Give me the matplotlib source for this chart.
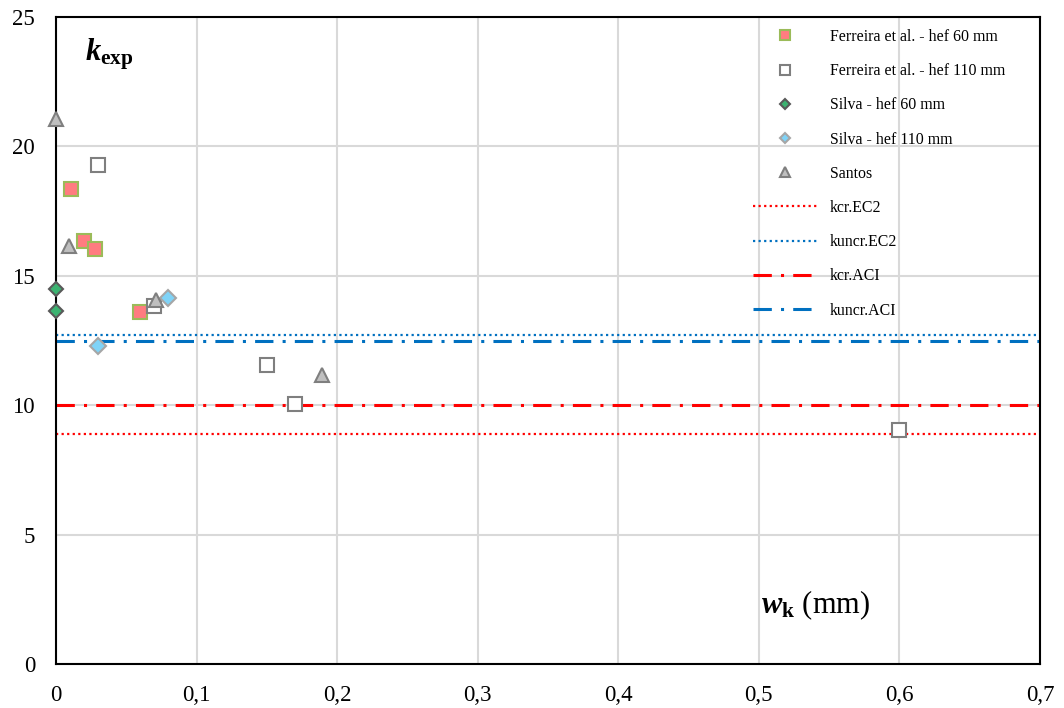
import matplotlib
matplotlib.use("Agg")
import matplotlib.pyplot as plt
from matplotlib.ticker import FuncFormatter

# --- font setup (Times-like look) ---
plt.rcParams['font.family'] = ['Liberation Serif', 'DejaVu Serif']
plt.rcParams['mathtext.fontset'] = 'custom'
plt.rcParams['mathtext.rm'] = 'Liberation Serif'
plt.rcParams['mathtext.it'] = 'Liberation Serif:italic'
plt.rcParams['mathtext.bf'] = 'Liberation Serif:bold'
plt.rcParams['mathtext.bfit'] = 'Liberation Serif:italic:bold'

# --- data ---
ferreira60_w = [0.011, 0.020, 0.028, 0.060]
ferreira60_k = [18.35, 16.35, 16.05, 13.6]

ferreira110_w = [0.030, 0.070, 0.150, 0.170, 0.600]
ferreira110_k = [19.3, 13.85, 11.55, 10.05, 9.05]

silva60_w = [0.0, 0.0]
silva60_k = [14.5, 13.65]

silva110_w = [0.030, 0.080]
silva110_k = [12.3, 14.15]

santos_w = [0.0, 0.0095, 0.071, 0.189]
santos_k = [21.05, 16.15, 14.05, 11.15]

kcr_ec2 = 8.9
kuncr_ec2 = 12.7
kcr_aci = 10.0
kuncr_aci = 12.5

x_ticks = [0, 0.1, 0.2, 0.3, 0.4, 0.5, 0.6, 0.7]
y_ticks = [0, 5, 10, 15, 20, 25]

# --- figure ---
fig = plt.figure(figsize=(10.64, 7.08), dpi=100)
ax = fig.add_axes([56 / 1064, 44 / 708, 984 / 1064, 647 / 708])

ax.set_xlim(0, 0.7)
ax.set_ylim(0, 25)
ax.set_xticks(x_ticks)
ax.set_yticks(y_ticks)
ax.grid(True, color='#D9D9D9', linewidth=1.5)
ax.set_axisbelow(True)
ax.tick_params(length=0, labelsize=16.5)
ax.tick_params(axis='x', pad=15)
ax.tick_params(axis='y', pad=15)
ax.xaxis.set_major_formatter(FuncFormatter(lambda v, p: ('%g' % v).replace('.', ',')))
for s in ax.spines.values():
    s.set_linewidth(1.5)
    s.set_color('black')

# reference lines
ax.axhline(kcr_ec2, color='#FF0000', linestyle=(0, (1, 1.5)), linewidth=1.6, label='kcr.EC2')
ax.axhline(kuncr_ec2, color='#0070C0', linestyle=(0, (1, 1.5)), linewidth=1.6, label='kuncr.EC2')
ax.axhline(kcr_aci, color='#FF0000', linestyle=(0, (6, 3, 1, 3)), linewidth=2.2, label='kcr.ACI')
ax.axhline(kuncr_aci, color='#0070C0', linestyle=(0, (6, 3, 1, 3)), linewidth=2.2, label='kuncr.ACI')

# scatter series
ax.plot(ferreira60_w, ferreira60_k, 's', ms=10, mfc='#FF7C80', mec='#9BBB59', mew=1.5,
        clip_on=False, zorder=5, label='Ferreira et al. - hef 60 mm')
ax.plot(ferreira110_w, ferreira110_k, 's', ms=10, mfc='white', mec='#7F7F7F', mew=1.5,
        clip_on=False, zorder=5, label='Ferreira et al. - hef 110 mm')
ax.plot(silva60_w, silva60_k, 'D', ms=7.5, mfc='#3CB371', mec='#595959', mew=1.5,
        clip_on=False, zorder=6, label='Silva - hef 60 mm')
ax.plot(silva110_w, silva110_k, 'D', ms=8, mfc='#7FD3F7', mec='#A6A6A6', mew=1.5,
        clip_on=False, zorder=5, label='Silva - hef 110 mm')
ax.plot(santos_w, santos_k, '^', ms=10, mfc='#BFBFBF', mec='#7F7F7F', mew=1.5,
        clip_on=False, zorder=5, label='Santos')

# legend: markers first, then lines
h, l = ax.get_legend_handles_labels()
order = [4, 5, 6, 7, 8, 0, 1, 2, 3]
leg = ax.legend([h[i] for i in order], [l[i] for i in order],
                loc='upper left', bbox_to_anchor=(753 / 1064, (708 - 29) / 708),
                bbox_transform=fig.transFigure, frameon=False, fontsize=11.4,
                handlelength=4.1, handletextpad=0.75, labelspacing=1.15,
                borderpad=0, borderaxespad=0, markerscale=0.65)

# axis titles inside the plot
ax.text(85 / 1064, 1 - 60 / 708, r'$\mathbfit{k}_{\mathbf{exp}}$', transform=fig.transFigure,
        fontsize=22, ha='left', va='baseline')
ax.text(761 / 1064, 1 - 613 / 708, r'$\mathbfit{w}_{\mathbf{k}}$ (mm)', transform=fig.transFigure,
        fontsize=22, ha='left', va='baseline')

fig.savefig('out.png', dpi=100)
